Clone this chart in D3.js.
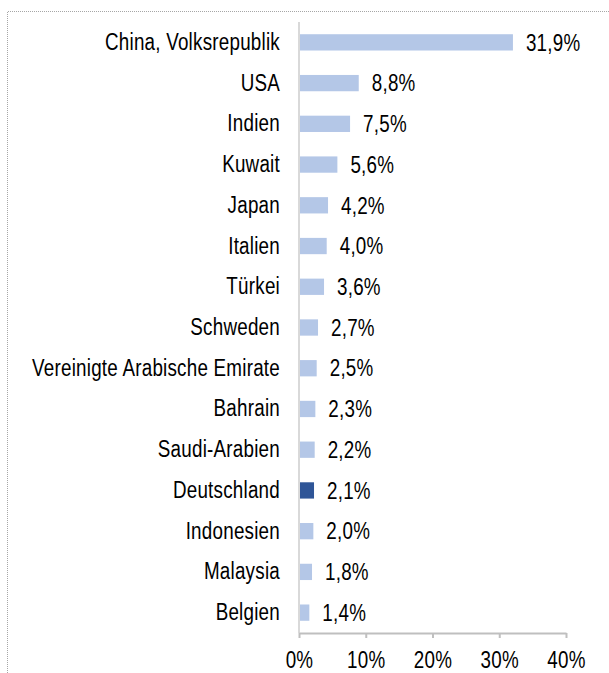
<!DOCTYPE html>
<html lang="de">
<head>
<meta charset="utf-8">
<title>Länderanteile</title>
<style>
  body { margin: 0; background: #fff; }
  text { font-family: "Liberation Sans", Arial, sans-serif; fill: #000; letter-spacing: 0.3px; }
  .frame { fill: none; stroke: #a6a6a6; stroke-width: 1px; stroke-dasharray: 1,1; }
</style>
</head>
<body>
<script src="https://d3js.org/d3.v7.min.js"></script>
<script>
  const countries = ["China, Volksrepublik", "USA", "Indien", "Kuwait", "Japan", "Italien", "Türkei",
    "Schweden", "Vereinigte Arabische Emirate", "Bahrain", "Saudi-Arabien", "Deutschland",
    "Indonesien", "Malaysia", "Belgien"];
  const shares = [31.9, 8.8, 7.5, 5.6, 4.2, 4.0, 3.6, 2.7, 2.5, 2.3, 2.2, 2.1, 2.0, 1.8, 1.4];
  const highlight = ["Deutschland"];
  const xTicks = [0, 10, 20, 30, 40];

  const width = 609, height = 673;
  const margin = {top: 22, right: 43, bottom: 40, left: 299};
  const fontSize = 23.5, squeeze = 0.8;   // no Arial Narrow here, so squeeze a regular sans

  const svg = d3.select("body").append("svg")
    .attr("width", width)
    .attr("height", height);

  // dotted frame around the chart area
  svg.append("path")
    .attr("class", "frame")
    .attr("d", `M7.5,${height} V11.5 H${width}`);

  const x = d3.scaleLinear().domain([0, 40]).range([margin.left, width - margin.right]);
  const y = d3.scaleBand().domain(countries)
    .range([margin.top, height - margin.bottom])
    .paddingInner(0.6).paddingOuter(0.3);

  const fmt = v => d3.format(".1f")(v).replace(".", ",") + "%";

  // put a text at (tx, ty) and squeeze it horizontally
  function narrow(sel, tx, ty) {
    sel.attr("x", 0).attr("y", 0)
      .style("font-size", fontSize + "px")
      .attr("transform", (d, i) => `translate(${tx(d, i)},${ty(d, i)}) scale(${squeeze},1)`);
  }

  // bars
  svg.append("g").selectAll("rect")
    .data(countries)
    .join("rect")
    .attr("x", x(0) + 1)
    .attr("y", d => y(d))
    .attr("width", (d, i) => x(shares[i]) - x(0))
    .attr("height", y.bandwidth())
    .attr("fill", d => highlight.includes(d) ? "#2f5597" : "#b4c7e7");

  // value labels
  svg.append("g").selectAll("text")
    .data(countries)
    .join("text")
    .attr("dy", "0.35em")
    .text((d, i) => fmt(shares[i]))
    .call(narrow, (d, i) => x(shares[i]) + 14, d => y(d) + y.bandwidth() / 2);

  // category axis
  const yAxis = svg.append("g")
    .attr("transform", `translate(${x(0)},0)`)
    .call(d3.axisLeft(y).tickSize(0));
  yAxis.select(".domain").attr("stroke", "#d9d9d9").attr("stroke-width", 2)
    .attr("d", `M0,${margin.top}V${height - margin.bottom}`);
  yAxis.selectAll(".tick text")
    .call(narrow, () => -19, () => 0);

  // value axis
  const xAxis = svg.append("g")
    .attr("transform", `translate(0,${height - margin.bottom})`)
    .call(d3.axisBottom(x).tickValues(xTicks).tickSize(5).tickSizeOuter(0)
      .tickFormat(d => d + "%"));
  xAxis.select(".domain").attr("stroke", "#bfbfbf").attr("stroke-width", 2);
  xAxis.selectAll(".tick line").attr("stroke", "#bfbfbf").attr("stroke-width", 2);
  xAxis.selectAll(".tick text")
    .attr("dy", "0.35em")
    .call(narrow, () => 0, () => 27);
</script>
</body>
</html>
